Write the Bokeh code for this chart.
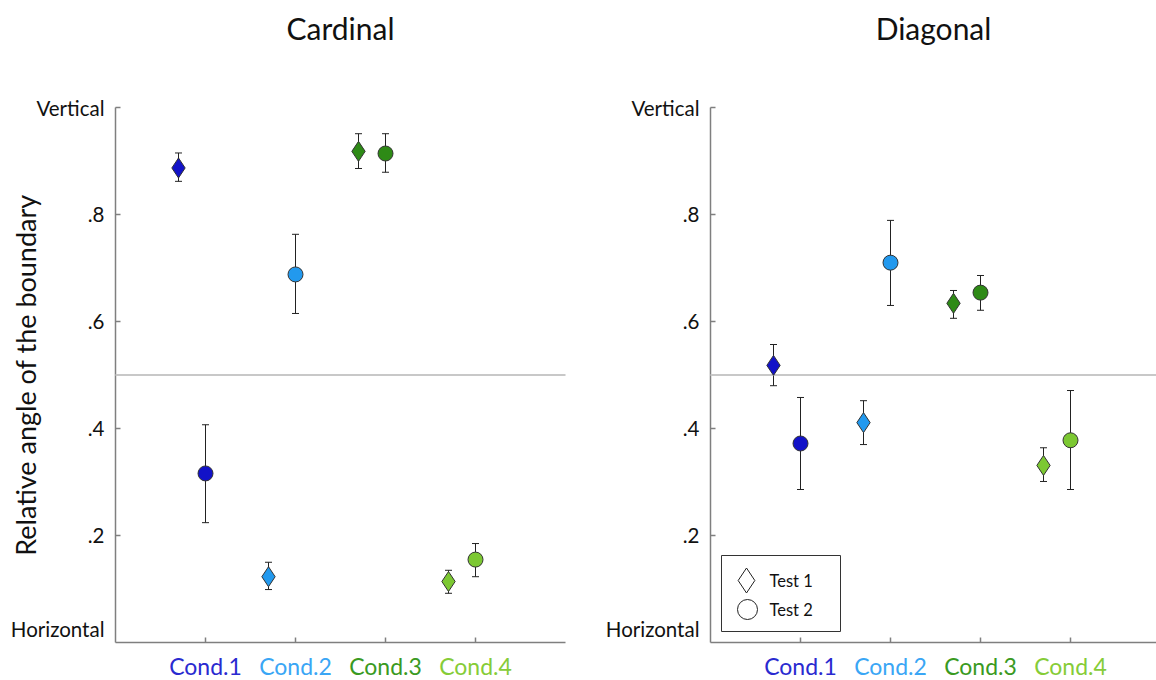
import math
from bokeh.plotting import figure
from bokeh.models import ColumnDataSource, Whisker, TeeHead
from bokeh.core.properties import value
from bokeh.layouts import row
from bokeh.embed import file_html
from bokeh.resources import INLINE

conditions = ["Cond.1", "Cond.2", "Cond.3", "Cond.4"]
cond_colors = ["#1212c8", "#2299ee", "#2e8a16", "#7cc832"]
label_colors = ["#2a2ad0", "#3aa6f5", "#3a9a22", "#86cc38"]

# Cardinal panel
card_t1 = [0.887, 0.123, 0.918, 0.114]
card_t1_lo = [0.862, 0.099, 0.886, 0.092]
card_t1_hi = [0.915, 0.150, 0.951, 0.135]
card_t2 = [0.316, 0.688, 0.914, 0.155]
card_t2_lo = [0.224, 0.615, 0.879, 0.123]
card_t2_hi = [0.407, 0.763, 0.951, 0.185]

# Diagonal panel
diag_t1 = [0.518, 0.411, 0.634, 0.331]
diag_t1_lo = [0.480, 0.370, 0.606, 0.301]
diag_t1_hi = [0.557, 0.452, 0.658, 0.364]
diag_t2 = [0.372, 0.710, 0.654, 0.378]
diag_t2_lo = [0.286, 0.630, 0.621, 0.286]
diag_t2_hi = [0.458, 0.789, 0.686, 0.471]

y_ticks = [0.2, 0.4, 0.6, 0.8, 1.0]
y_tick_labels = [".2", ".4", ".6", ".8", "Vertical"]
bottom_tick = 0.026
bottom_label = "Horizontal"
legend_labels = ["Test 1", "Test 2"]
y_label = "Relative angle of the boundary"

FONT = "Lato"
AXIS_GRAY = "#7f7f7f"
TXT = "#111111"
PX_X = 90.0    # pixels per x unit
PX_Y = 535.0   # pixels per y unit


def make_panel(title, t1, t1lo, t1hi, t2, t2lo, t2hi, ylabel, width, axis_px, axis_len, legend):
    x0 = -axis_px / PX_X
    x1 = (width - axis_px) / PX_X
    p = figure(width=width, height=680, x_range=(x0, x1), y_range=(-0.0710, 1.2000),
               output_backend="svg", toolbar_location=None,
               min_border_left=0, min_border_right=0, min_border_top=0, min_border_bottom=0)
    p.outline_line_color = None
    p.grid.visible = False
    p.axis.visible = False
    p.background_fill_color = "white"
    p.border_fill_color = "white"

    xs = [1, 2, 3, 4]
    # axes lines
    p.segment(x0=[0, 0], y0=[0, 0], x1=[0, axis_len], y1=[1, 0],
              line_color=AXIS_GRAY, line_width=1.5)
    # inward ticks
    p.segment(x0=[0] * len(y_ticks), y0=y_ticks, x1=[5 / PX_X] * len(y_ticks), y1=y_ticks,
              line_color=AXIS_GRAY, line_width=1.5)
    p.segment(x0=xs, y0=[0] * 4, x1=xs, y1=[5 / PX_Y] * 4, line_color=AXIS_GRAY, line_width=1.5)
    # tick labels
    p.text(x=[0] * 6, y=[bottom_tick] + y_ticks, text=[bottom_label] + y_tick_labels,
           x_offset=-11, text_align="right", text_baseline="middle", text_color=TXT,
           text_font=value(FONT), text_font_size="20.5px")
    if ylabel:
        p.text(x=[-90 / PX_X], y=[0.5], text=[ylabel], angle=math.pi / 2,
               text_align="center", text_baseline="middle", text_color=TXT,
               text_font=value(FONT), text_font_size="27px")

    # reference line at 0.5
    p.segment(x0=[0], y0=[0.5], x1=[axis_len], y1=[0.5], line_color="#c8c8c8", line_width=2)

    xd = [x - 0.3 for x in xs]
    src1 = ColumnDataSource(dict(x=xd, y=t1, lo=t1lo, hi=t1hi, c=cond_colors))
    src2 = ColumnDataSource(dict(x=xs, y=t2, lo=t2lo, hi=t2hi, c=cond_colors))
    for src in (src1, src2):
        p.add_layout(Whisker(source=src, base="x", lower="lo", upper="hi",
                             line_color="#222222", line_width=1,
                             upper_head=TeeHead(size=7, line_color="#222222", line_width=1),
                             lower_head=TeeHead(size=7, line_color="#222222", line_width=1)))
    p.scatter("x", "y", source=src1, marker="diamond", size=20, fill_color="c",
              line_color="#333333", line_width=1)
    p.scatter("x", "y", source=src2, marker="circle", size=15, fill_color="c",
              line_color="#333333", line_width=1)

    # category labels under the axis
    p.text(x=xs, y=[-0.043] * 4, text=conditions, text_color=label_colors,
           text_align="center", text_baseline="middle",
           text_font=value(FONT), text_font_size="23px")
    # panel title
    p.text(x=[axis_len / 2], y=[1.148], text=[title], text_color=TXT,
           text_align="center", text_baseline="middle",
           text_font=value(FONT), text_font_size="30px")

    if legend:
        # legend box, markers and labels (positions in panel units)
        p.quad(left=[11 / PX_X], right=[130 / PX_X], top=[87 / PX_Y], bottom=[11 / PX_Y],
               fill_color="white", line_color="#333333", line_width=1)
        p.scatter(x=[36 / PX_X], y=[62 / PX_Y], marker="diamond", size=25,
                  fill_color="white", line_color="#222222", line_width=1)
        p.scatter(x=[37 / PX_X], y=[33 / PX_Y], marker="circle", size=20,
                  fill_color="white", line_color="#222222", line_width=1)
        p.text(x=[59 / PX_X] * 2, y=[62 / PX_Y, 33 / PX_Y], text=legend_labels,
               text_align="left", text_baseline="middle", text_color=TXT,
               text_font=value(FONT), text_font_size="16.5px")
    return p


left = make_panel("Cardinal", card_t1, card_t1_lo, card_t1_hi, card_t2, card_t2_lo, card_t2_hi,
                  y_label, 580, 115, 450 / PX_X, False)
right = make_panel("Diagonal", diag_t1, diag_t1_lo, diag_t1_hi, diag_t2, diag_t2_lo, diag_t2_hi,
                   None, 576, 130, 446 / PX_X, True)

layout = row(left, right)
open("out.html", "w").write(file_html(layout, INLINE))
